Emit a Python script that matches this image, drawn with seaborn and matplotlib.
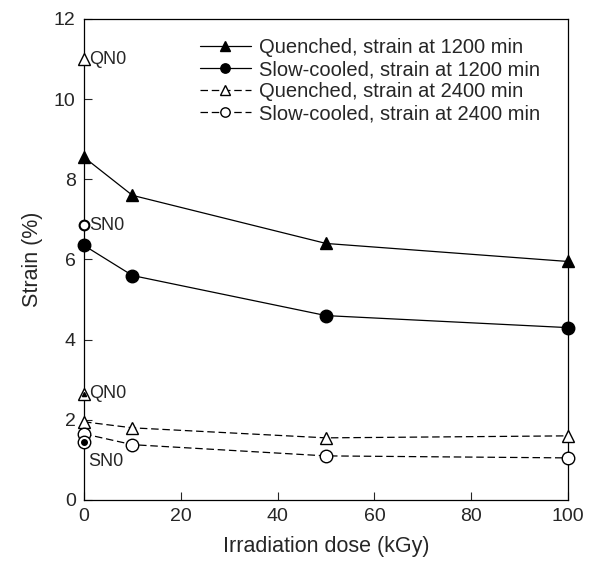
import pandas as pd
import numpy as np
import matplotlib.pyplot as plt
import seaborn as sns

sns.set_style('white')
plt.rcParams['font.family'] = ['Liberation Sans', 'DejaVu Sans']

# 数据
dose = [0, 10, 50, 100]
q_1200 = [8.55, 7.6, 6.4, 5.95]
s_1200 = [6.35, 5.6, 4.6, 4.3]
q_2400 = [1.95, 1.8, 1.55, 1.6]
s_2400 = [1.65, 1.38, 1.1, 1.05]
labels = ['Quenched, strain at 1200 min', 'Slow-cooled, strain at 1200 min',
          'Quenched, strain at 2400 min', 'Slow-cooled, strain at 2400 min']

# 未辐照参考点
ref_names = ['QN0', 'SN0', 'QN0', 'SN0']
ref_y = [11.0, 6.85, 2.65, 1.45]

fig = plt.figure(figsize=(5.93, 5.72), dpi=100)
ax = fig.add_axes([0.1417, 0.1259, 0.8163, 0.8409])

series = [q_1200, s_1200, q_2400, s_2400]
markers = ['^', 'o', '^', 'o']
styles = ['-', '-', (0, (6, 3)), (0, (6, 3))]
fills = ['black', 'black', 'white', 'white']
for y, lab, m, ls, fc in zip(series, labels, markers, styles, fills):
    sns.lineplot(x=dose, y=y, ax=ax, color='black', lw=0.9, linestyle=ls,
                 marker=m, markersize=9, markerfacecolor=fc, markeredgecolor='black',
                 markeredgewidth=1, label=lab, clip_on=False, zorder=3)

# 参考点
ax.plot([0], [ref_y[0]], marker='^', ms=8, mfc='white', mec='black', ls='none', clip_on=False, zorder=4)
ax.plot([0], [ref_y[1]], marker='o', ms=7, mfc='white', mec='black', mew=1.5, ls='none', clip_on=False, zorder=4)
ax.plot([0], [ref_y[2]], marker='^', ms=8, mfc='white', mec='black', ls='none', clip_on=False, zorder=4)
ax.plot([0], [ref_y[2]], marker='^', ms=3, mfc='black', mec='black', ls='none', clip_on=False, zorder=5)
ax.plot([0], [ref_y[3]], marker='o', ms=9, mfc='white', mec='black', ls='none', clip_on=False, zorder=4)
ax.plot([0], [ref_y[3]], marker='o', ms=4, mfc='black', mec='black', ls='none', clip_on=False, zorder=5)

ax.text(1.0, ref_y[0], ref_names[0], fontsize=13, va='center', ha='left')
ax.text(1.0, ref_y[1], ref_names[1], fontsize=13, va='center', ha='left')
ax.text(1.0, ref_y[2], ref_names[2], fontsize=13, va='center', ha='left')
ax.text(0.8, 0.95, ref_names[3], fontsize=13, va='center', ha='left')

ax.set_xlim(0, 100)
ax.set_ylim(0, 12)
ax.set_xticks([0, 20, 40, 60, 80, 100])
ax.set_yticks([0, 2, 4, 6, 8, 10, 12])
ax.tick_params(axis='both', direction='in', length=6, width=0.8, labelsize=14,
               left=True, bottom=True, top=False, right=False, pad=6)
for sp in ax.spines.values():
    sp.set_color('black')
    sp.set_linewidth(0.9)

ax.set_xlabel('Irradiation dose (kGy)', fontsize=15.5, labelpad=8)
ax.set_ylabel('Strain (%)', fontsize=15.5, labelpad=8)

ax.legend(loc='upper left', bbox_to_anchor=(0.24, 0.96), frameon=False, fontsize=14.5,
          handlelength=2.5, handletextpad=0.4, labelspacing=0.15, borderaxespad=0,
          borderpad=0, markerscale=0.75)

plt.savefig('out.png', dpi=100)
